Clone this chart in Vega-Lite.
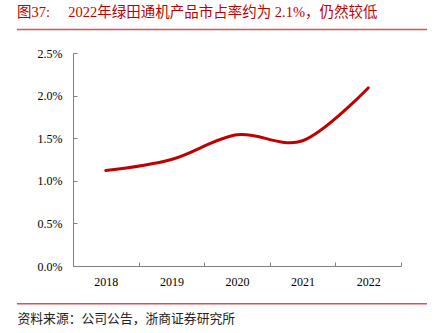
{
  "$schema": "https://vega.github.io/schema/vega-lite/v6.json",
  "width": 328,
  "height": 213,
  "autosize": {"type": "none"},
  "padding": {"left": 73, "top": 53, "right": 36, "bottom": 67},
  "background": "white",
  "config": {"view": {"stroke": null}},
  "title": {
    "text": "图37:\u3000\u00a02022年绿田通机产品市占率约为 2.1%，仍然较低",
    "anchor": "start",
    "frame": "group",
    "dx": -56,
    "offset": 8,
    "font": "Liberation Serif, Noto Sans CJK SC",
    "fontSize": 14.5,
    "fontWeight": "normal",
    "color": "#C00000"
  },
  "datasets": {
    "share": [
      {"year": 2018, "share": 0.0112},
      {"year": 2019, "share": 0.0125},
      {"year": 2020, "share": 0.0154},
      {"year": 2021, "share": 0.0147},
      {"year": 2022, "share": 0.0209}
    ],
    "frame": [
      {"x1": 2016.646, "x2": 2022.896, "y": 0.02776},
      {"x1": 2016.646, "x2": 2022.896, "y": -0.00444}
    ]
  },
  "layer": [
    {
      "data": {"name": "share"},
      "mark": {"type": "line", "interpolate": "cardinal", "color": "#C00000", "strokeWidth": 3, "strokeCap": "round"},
      "encoding": {
        "x": {
          "field": "year", "type": "quantitative",
          "scale": {"domain": [2017.5, 2022.5], "nice": false, "zero": false},
          "axis": {
            "values": [2018, 2019, 2020, 2021, 2022],
            "format": "d",
            "grid": false,
            "domainColor": "#808080",
            "tickColor": "#808080",
            "tickSize": -4,
            "tickOffset": 32.8,
            "labelOffset": -32.8,
            "labelPadding": 14,
            "labelFont": "Liberation Serif",
            "labelFontSize": 12,
            "labelColor": "#000000",
            "title": "资料来源：公司公告，浙商证券研究所",
            "titleX": -56,
            "titleY": 52,
            "titleAnchor": "start",
            "titleAlign": "left",
            "titleBaseline": "middle",
            "titleFont": "Noto Sans CJK SC",
            "titleFontSize": 12.8,
            "titleFontWeight": "normal",
            "titleColor": "#222222"
          }
        },
        "y": {
          "field": "share", "type": "quantitative",
          "scale": {"domain": [0, 0.025], "nice": false, "zero": false},
          "axis": {
            "values": [0, 0.005, 0.01, 0.015, 0.02, 0.025],
            "format": ".1%",
            "grid": false,
            "domainColor": "#808080",
            "tickColor": "#808080",
            "tickSize": -4,
            "labelPadding": 15,
            "labelFont": "Liberation Serif",
            "labelFontSize": 12,
            "labelColor": "#000000",
            "title": null
          }
        }
      }
    },
    {
      "data": {"name": "frame"},
      "mark": {"type": "rule", "color": "#D9534F", "strokeWidth": 1.5, "clip": false},
      "encoding": {
        "x": {"field": "x1", "type": "quantitative"},
        "x2": {"field": "x2"},
        "y": {"field": "y", "type": "quantitative"}
      }
    }
  ]
}
